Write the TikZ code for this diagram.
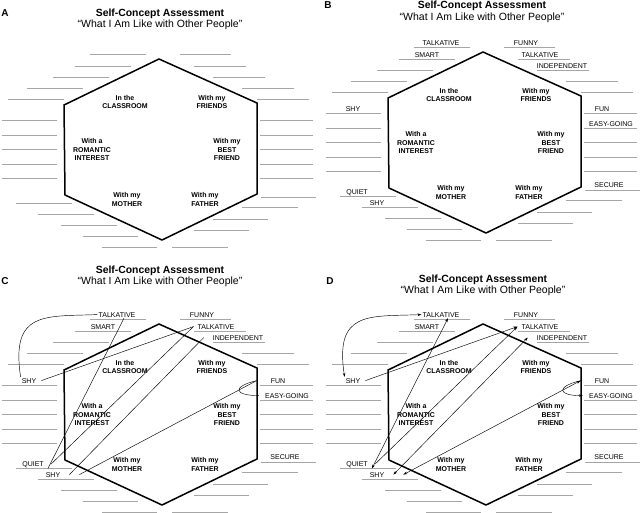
\documentclass[tikz,border=0pt]{standalone}
\usepackage{fontspec}
\setmainfont{Liberation Sans}
\usetikzlibrary{arrows.meta}

\tikzset{
  hexagon/.style={line width=1.5pt},
  blank/.style={gray!70, line width=0.8pt},
  situation/.style={font=\bfseries\fontsize{7}{8.3}\selectfont, align=center, inner sep=0pt},
  word/.style={font=\fontsize{7}{8}\selectfont, anchor=base, inner sep=1pt},
  link/.style={line width=0.45pt, >={Stealth[length=4pt,width=2.6pt]}},
  heading/.style={font=\bfseries\fontsize{10.4}{12}\selectfont, anchor=base},
  subheading/.style={font=\fontsize{10.5}{12}\selectfont, anchor=base},
  panel/.style={font=\bfseries\fontsize{10}{12}\selectfont, anchor=base}
}

% empty sheet: hexagon, situations and answer lines
\newcommand{\sheet}[3]{
\begin{scope}[shift={(#2,#3)}]
  \draw[hexagon] (159,59) -- (257,103) -- (257,194) -- (162,240) -- (65,195) -- (64,105) -- cycle;
  \node[situation] (#1cls) at (125,102) {In the\\CLASSROOM};
  \node[situation] (#1fri) at (212,102) {With my\\FRIENDS};
  \node[situation] (#1rom) at (92,149.5) {With a\\ROMANTIC\\INTEREST};
  \node[situation] (#1bst) at (227,149.5) {With my\\BEST\\FRIEND};
  \node[situation] (#1mot) at (127,199.5) {With my\\MOTHER};
  \node[situation] (#1fat) at (205,199.5) {With my\\FATHER};
  % answer lines
  \foreach \a/\b/\y in {90/146/54,75/131/66,53/109/77,27/83/88,8/64/99,
      2/57/120,2/57/135,2/57/149,2/57/164,2/57/178,
      16/72/203,38/94/214,61/117/225,83/138/236,102/157/247,
      180/231/54,194/246/66,213/265/77,242/294/88,257/309/99,
      260/313/120,260/313/135,260/313/149,260/313/164,260/313/178,
      261/316/197,242/298/207,213/268/219,194/249/230,172/228/247}
    \draw[blank] (\a,\y) -- (\b,\y);
\end{scope}}

% words written on the lines
\newcommand{\answers}[3]{
\begin{scope}[shift={(#2,#3)}]
  \node[word] (#1tal1) at (117,52) {TALKATIVE};
  \node[word] (#1sma) at (103,64) {SMART};
  \node[word] (#1shy1) at (29,118) {SHY};
  \node[word] (#1qui) at (33,201) {QUIET};
  \node[word] (#1shy2) at (53,212) {SHY};
  \node[word] (#1fny) at (202,52) {FUNNY};
  \node[word] (#1tal2) at (216,64) {TALKATIVE};
  \node[word] (#1ind) at (238,75) {INDEPENDENT};
  \node[word] (#1fun) at (278,118) {FUN};
  \node[word] (#1easy) at (287,133) {EASY-GOING};
  \node[word] (#1sec) at (285,194) {SECURE};
\end{scope}}

% links: sheet, two-way tips, one-way tips
\newcommand{\links}[3]{
  \draw[link,#2] (#1shy1.north west) .. controls +(-10,-66) and +(-53,2) .. (#1tal1.west);
  \draw[link,#3] ([xshift=4pt]#1shy1.east) -- ([xshift=-3pt]#1tal2.west);
  \draw[link,#2] ([xshift=3pt]#1qui.south east) -- ([xshift=7pt]#1tal1.south);
  \draw[link,#3] ([xshift=6pt]#1qui.east) -- ([xshift=-3pt]#1tal2.west);
  \draw[link,#2] ([xshift=8pt]#1shy2.east) -- ([xshift=-8pt]#1ind.west);
  \draw[link,#2] ([xshift=18pt]#1shy2.east) -- ([xshift=-13pt]#1fun.west);
  \draw[link,#3] ([xshift=-13pt]#1fun.west) .. controls +(-25,6) and +(-25,0) .. ([xshift=-5pt]#1easy.west);
}

\begin{document}
\begin{tikzpicture}[x=1pt,y=-1pt]
  \useasboundingbox (0,0) rectangle (640,512);

  \foreach \p/\lx/\ly/\tx/\ty in {A/5/16.6/160/16.4, B/328/8.6/482/8.7, C/5/284.6/160/273, D/330/284.6/483/282.4} {
    \node[panel] (\p) at (\lx,\ly) {\p};
    \node[heading] (\p-title) at (\tx,\ty) {Self-Concept Assessment};
    \node[subheading] (\p-sub) at (\tx,\ty+11.5) {“What I Am Like with Other People”};
  }

  \sheet{A}{0}{0}
  \sheet{B}{324}{-7}
  \sheet{C}{0}{265}
  \sheet{D}{324}{265}

  \answers{B}{324}{-7}
  \answers{C}{0}{265}
  \answers{D}{324}{265}

  \links{C}{-}{-}
  \links{D}{<->}{->}
\end{tikzpicture}
\end{document}
